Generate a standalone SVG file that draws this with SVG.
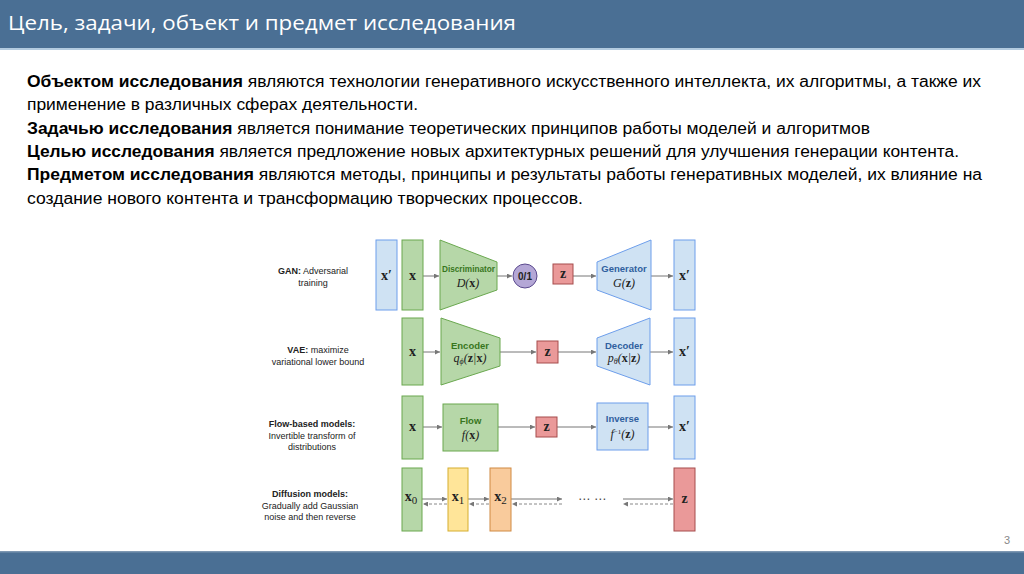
<svg xmlns="http://www.w3.org/2000/svg" width="1024" height="574" viewBox="0 0 1024 574">
<style>
.body{font-family:"Liberation Sans",Arial,sans-serif;font-size:16px;fill:#000}
.b{font-weight:bold}
.lbl{font-family:"Liberation Sans",Arial,sans-serif;font-size:9px;fill:#222;text-anchor:middle}
.m{font-family:"Liberation Serif","Times New Roman",serif;font-weight:bold;font-size:14px;fill:#222;text-anchor:middle}
.mi{font-family:"Liberation Serif","Times New Roman",serif;font-style:italic;font-size:12px;fill:#222;text-anchor:middle}
.nm{font-family:"Liberation Sans",Arial,sans-serif;font-weight:bold;font-size:9.5px;text-anchor:middle}
.g{fill:#b6d7a8;stroke:#6aa84f;stroke-width:1}
.bl{fill:#cfe2f3;stroke:#6d9eeb;stroke-width:1}
.r{fill:#ea9999;stroke:#a64d4d;stroke-width:1}
.y{fill:#ffe599;stroke:#d6ae2e;stroke-width:1}
.o{fill:#f9cb9c;stroke:#d08a43;stroke-width:1}
.ar{stroke:#777;stroke-width:1;fill:none;marker-end:url(#ah)}
.da{stroke:#888;stroke-width:1;fill:none;stroke-dasharray:3,2;marker-end:url(#ah)}
</style>
<defs>
<marker id="ah" viewBox="0 0 6 6" refX="6" refY="3" markerWidth="5" markerHeight="5" orient="auto">
<path d="M0,0 L6,3 L0,6 z" fill="#777"/>
</marker>
</defs>
<rect x="0" y="0" width="1024" height="574" fill="#fff"/>
<g id="header">
<rect x="0" y="0" width="1024" height="48" fill="#4a6f94"/>
<rect x="0" y="48" width="1024" height="2" fill="#b3cbe0"/>
<text x="8" y="30" font-family="'Open Sans','Liberation Sans',sans-serif" font-size="20" fill="#fff" textLength="508" lengthAdjust="spacingAndGlyphs">Цель, задачи, объект и предмет исследования</text>
</g>
<g id="footer">
<rect x="0" y="552" width="1024" height="22" fill="#4a6f94"/>
<rect x="0" y="551" width="1024" height="1.5" fill="#7d97b2"/>
<text x="1007" y="544" font-family="'Liberation Sans',sans-serif" font-size="11" fill="#888" text-anchor="middle">3</text>
</g>
<g id="text">
<text class="body" x="27" y="87" textLength="954" lengthAdjust="spacingAndGlyphs"><tspan class="b">Объектом исследования</tspan> являются технологии генеративного искусственного интеллекта, их алгоритмы, а также их</text>
<text class="body" x="27" y="110" textLength="391" lengthAdjust="spacingAndGlyphs">применение в различных сферах деятельности.</text>
<text class="body" x="27" y="134" textLength="843" lengthAdjust="spacingAndGlyphs"><tspan class="b">Задачью исследования</tspan> является понимание теоретических принципов работы моделей и алгоритмов</text>
<text class="body" x="27" y="157" textLength="932" lengthAdjust="spacingAndGlyphs"><tspan class="b">Целью исследования</tspan> является предложение новых архитектурных решений для улучшения генерации контента.</text>
<text class="body" x="27" y="180" textLength="955" lengthAdjust="spacingAndGlyphs"><tspan class="b">Предметом исследования</tspan> являются методы, принципы и результаты работы генеративных моделей, их влияние на</text>
<text class="body" x="27" y="204" textLength="556" lengthAdjust="spacingAndGlyphs">создание нового контента и трансформацию творческих процессов.</text>
</g>
<g id="labels">
<text class="lbl" x="313" y="274"><tspan font-weight="bold">GAN:</tspan> Adversarial</text>
<text class="lbl" x="313" y="286">training</text>
<text class="lbl" x="318" y="353"><tspan font-weight="bold">VAE:</tspan> maximize</text>
<text class="lbl" x="318" y="365">variational lower bound</text>
<text class="lbl" x="312" y="427" font-weight="bold">Flow-based models:</text>
<text class="lbl" x="312" y="439">Invertible transform of</text>
<text class="lbl" x="312" y="450">distributions</text>
<text class="lbl" x="310" y="497" font-weight="bold">Diffusion models:</text>
<text class="lbl" x="310" y="509">Gradually add Gaussian</text>
<text class="lbl" x="310" y="520">noise and then reverse</text>
</g>
<g id="connectors">
<line class="ar" x1="423" y1="276" x2="439" y2="276"/>
<line class="ar" x1="497" y1="276" x2="512" y2="276"/>
<line class="ar" x1="573" y1="276" x2="596" y2="276"/>
<line class="ar" x1="651" y1="276" x2="673" y2="276"/>
<line class="ar" x1="423" y1="352" x2="440" y2="352"/>
<line class="ar" x1="500" y1="352" x2="536" y2="352"/>
<line class="ar" x1="558" y1="352" x2="596" y2="352"/>
<line class="ar" x1="650" y1="352" x2="673" y2="352"/>
<line class="ar" x1="423" y1="427" x2="442" y2="427"/>
<line class="ar" x1="498" y1="427" x2="535" y2="427"/>
<line class="ar" x1="557" y1="427" x2="596" y2="427"/>
<line class="ar" x1="648" y1="427" x2="673" y2="427"/>
<line class="ar" x1="422" y1="499" x2="447" y2="499"/>
<line class="ar" x1="468" y1="499" x2="489" y2="499"/>
<line class="ar" x1="511" y1="499" x2="562" y2="499"/>
<line class="ar" x1="623" y1="499" x2="673" y2="499"/>
<line class="da" x1="447" y1="504" x2="423" y2="504"/>
<line class="da" x1="489" y1="504" x2="469" y2="504"/>
<line class="da" x1="562" y1="504" x2="512" y2="504"/>
<line class="da" x1="673" y1="504" x2="623" y2="504"/>
</g>
<g id="gan">
<g id="gan-xp1"><rect class="bl" x="376" y="240" width="21" height="70"/><text class="m" x="386.5" y="280">x′</text></g>
<g id="gan-x"><rect class="g" x="402" y="240" width="21" height="70"/><text class="m" x="412.5" y="280">x</text></g>
<g id="gan-disc"><polygon class="g" points="440,240 497,262 497,290 440,310"/><text class="nm" x="468.5" y="272" fill="#38761d" font-size="8.8" textLength="53" lengthAdjust="spacingAndGlyphs">Discriminator</text><text class="mi" x="468" y="287">D(<tspan font-weight="bold" font-style="normal">x</tspan>)</text></g>
<g id="gan-out"><circle cx="525" cy="276" r="12" fill="#b4a7d6" stroke="#5b4a8e"/><text x="525" y="280" font-family="'Liberation Sans',sans-serif" font-size="10" font-weight="bold" fill="#222" text-anchor="middle">0/1</text></g>
<g id="gan-z"><rect class="r" x="553" y="264" width="20" height="20"/><text class="m" x="563" y="278" font-size="12">z</text></g>
<g id="gan-gen"><polygon class="bl" points="597,262 651,240 651,310 597,290"/><text class="nm" x="624" y="272" fill="#2f5f9e">Generator</text><text class="mi" x="624" y="287">G(<tspan font-weight="bold" font-style="normal">z</tspan>)</text></g>
<g id="gan-xp2"><rect class="bl" x="674" y="240" width="21" height="70"/><text class="m" x="684.5" y="280">x′</text></g>
</g>
<g id="vae">
<g id="vae-x"><rect class="g" x="402" y="318" width="21" height="67"/><text class="m" x="412.5" y="356">x</text></g>
<g id="vae-enc"><polygon class="g" points="441,318 500,338 500,366 441,385"/><text class="nm" x="470" y="349" fill="#38761d">Encoder</text><text class="mi" x="470" y="362">q<tspan font-size="8" dy="2">ϕ</tspan><tspan dy="-2">(</tspan><tspan font-weight="bold" font-style="normal">z</tspan>|<tspan font-weight="bold" font-style="normal">x</tspan>)</text></g>
<g id="vae-z"><rect class="r" x="537" y="341" width="21" height="22"/><text class="m" x="547.5" y="356" font-size="12">z</text></g>
<g id="vae-dec"><polygon class="bl" points="597,338 650,318 650,385 597,366"/><text class="nm" x="624" y="349" fill="#2f5f9e">Decoder</text><text class="mi" x="624" y="362">p<tspan font-size="8" dy="2">θ</tspan><tspan dy="-2">(</tspan><tspan font-weight="bold" font-style="normal">x</tspan>|<tspan font-weight="bold" font-style="normal">z</tspan>)</text></g>
<g id="vae-xp"><rect class="bl" x="674" y="318" width="21" height="67"/><text class="m" x="684.5" y="356">x′</text></g>
</g>
<g id="flow">
<g id="flow-x"><rect class="g" x="402" y="396" width="21" height="63"/><text class="m" x="412.5" y="431">x</text></g>
<g id="flow-f"><rect class="g" x="443" y="404" width="55" height="47"/><text class="nm" x="470.5" y="424" fill="#38761d">Flow</text><text class="mi" x="470.5" y="439">f(<tspan font-weight="bold" font-style="normal">x</tspan>)</text></g>
<g id="flow-z"><rect class="r" x="536" y="417" width="21" height="20"/><text class="m" x="546.5" y="431" font-size="12">z</text></g>
<g id="flow-inv"><rect class="bl" x="597" y="403" width="51" height="47"/><text class="nm" x="622.5" y="422" fill="#2f5f9e">Inverse</text><text class="mi" x="622.5" y="438">f<tspan font-size="7" dy="-4" font-style="normal">−1</tspan><tspan dy="4">(</tspan><tspan font-weight="bold" font-style="normal">z</tspan>)</text></g>
<g id="flow-xp"><rect class="bl" x="674" y="396" width="21" height="63"/><text class="m" x="684.5" y="431">x′</text></g>
</g>
<g id="diffusion">
<g id="dif-x0"><rect class="g" x="402" y="468" width="20" height="63"/><text class="m" x="411" y="501" font-size="16">x<tspan font-weight="normal" font-size="11" dy="3">0</tspan></text></g>
<g id="dif-x1"><rect class="y" x="448" y="468" width="20" height="63"/><text class="m" x="458" y="501" font-size="16">x<tspan font-weight="normal" font-size="11" dy="3">1</tspan></text></g>
<g id="dif-x2"><rect class="o" x="490" y="468" width="21" height="63"/><text class="m" x="500.5" y="501" font-size="16">x<tspan font-weight="normal" font-size="11" dy="3">2</tspan></text></g>
<text x="592" y="503" font-family="'DejaVu Sans',sans-serif" font-size="12" fill="#444" text-anchor="middle">⋯ ⋯</text>
<g id="dif-z"><rect class="r" x="674" y="468" width="21" height="63"/><text class="m" x="684.5" y="503" font-size="13">z</text></g>
</g>
</svg>
